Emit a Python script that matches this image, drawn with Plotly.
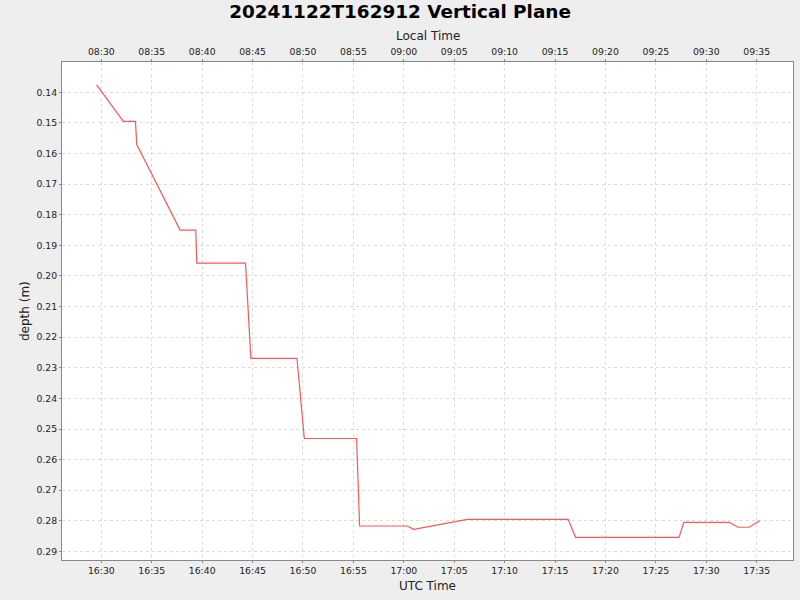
import plotly.graph_objects as go
import pandas as pd

DATE = "2024-11-22"
utc_times = ["16:29:32", "16:32:11", "16:33:23", "16:33:31", "16:37:49", "16:39:22",
             "16:39:28", "16:44:18", "16:44:50", "16:49:24", "16:50:08", "16:55:19",
             "16:55:37", "17:00:20", "17:00:59", "17:06:18", "17:16:18", "17:17:02",
             "17:27:18", "17:27:46", "17:32:18", "17:33:08", "17:34:15", "17:35:18"]
depths = [0.1376, 0.1495, 0.1495, 0.1571, 0.1850, 0.1850,
          0.1958, 0.1958, 0.2269, 0.2269, 0.2531, 0.2531,
          0.2817, 0.2817, 0.2828, 0.2795, 0.2795, 0.2854,
          0.2854, 0.2805, 0.2805, 0.2821, 0.2821, 0.2800]
local_offset_hours = -8
title_text = "20241122T162912 Vertical Plane"
x_title = "UTC Time"
x2_title = "Local Time"
y_title = "depth (m)"

t_utc = pd.to_datetime([f"{DATE} {t}" for t in utc_times])
t_local = t_utc + pd.Timedelta(hours=local_offset_hours)

x_range = [pd.Timestamp(f"{DATE} 16:26:06"), pd.Timestamp(f"{DATE} 17:38:36")]
x2_range = [x + pd.Timedelta(hours=local_offset_hours) for x in x_range]

FONT = "DejaVu Sans"
GRID = "#dcdcdc"
AXIS = "#888888"
W, H = 800, 600
ML, MR, MT, MB = 62, 7, 62, 40

fig = go.Figure()
fig.add_trace(go.Scatter(x=t_utc, y=depths, mode="lines",
                         line=dict(color="#FF5555", width=1.2),
                         xaxis="x", yaxis="y", showlegend=False))
fig.add_trace(go.Scatter(x=t_local, y=depths, mode="lines",
                         line=dict(color="rgba(0,0,0,0)", width=0),
                         xaxis="x2", yaxis="y", showlegend=False, hoverinfo="skip"))

axis_common = dict(showgrid=True, gridcolor=GRID, griddash="3px,3px", gridwidth=1,
                   showline=True, linecolor=AXIS, linewidth=1,
                   ticks="outside", ticklen=2, tickcolor=AXIS,
                   tickfont=dict(family=FONT, size=9.3, color="#222222"),
                   zeroline=False, automargin=False)

title_font = dict(family=FONT, size=12, color="#222222")
cx = (ML + (W - MR)) / 2
cy = (MT + (H - MB)) / 2
pw = W - ML - MR
ph = H - MT - MB


def ann_pos(px, py):
    return (px - ML) / pw, 1 - (py - MT) / ph


fig.update_layout(
    width=W, height=H,
    paper_bgcolor="#EEEEEE", plot_bgcolor="#FFFFFF",
    margin=dict(l=ML, r=MR, t=MT, b=MB),
    title=dict(text=f"<b>{title_text}</b>", x=0.5, xanchor="center",
               y=1 - 12 / H, yanchor="middle", yref="container",
               font=dict(family=FONT, size=18.4, color="#000000")),
    xaxis=dict(**axis_common, type="date", range=x_range, dtick=300000,
               tickformat="%H:%M", mirror=False),
    xaxis2=dict(**axis_common, type="date", range=x2_range, dtick=300000,
                tickformat="%H:%M", overlaying="x", side="top"),
    yaxis=dict(**axis_common, range=[0.2928, 0.1301], dtick=0.01, tick0=0.14,
               tickformat=".2f", mirror=True),
)

for text, (px, py), ang in [(x2_title, (cx, 36), 0), (x_title, (cx, 586), 0),
                            (y_title, (25, cy), -90)]:
    ax_, ay_ = ann_pos(px, py)
    fig.add_annotation(text=text, x=ax_, y=ay_, xref="paper", yref="paper",
                       xanchor="center", yanchor="middle", showarrow=False,
                       textangle=ang, font=title_font)

fig.write_html("out.html", config={"displayModeBar": False},
               post_script="document.body.style.margin='0';")
